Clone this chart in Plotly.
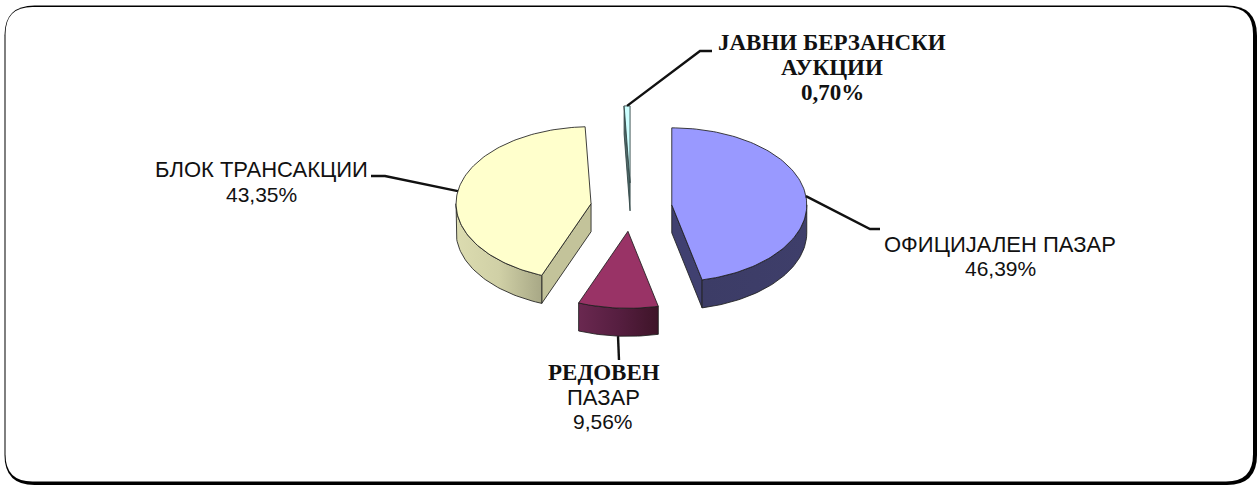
import math
import plotly.graph_objects as go

# ---- data ----
CATEGORIES = ["ОФИЦИЈАЛЕН ПАЗАР", "РЕДОВЕН ПАЗАР", "БЛОК ТРАНСАКЦИИ", "ЈАВНИ БЕРЗАНСКИ АУКЦИИ"]
VALUES = [46.39, 9.56, 43.35, 0.70]
VALUE_LABELS = ["46,39%", "9,56%", "43,35%", "0,70%"]

# ---- drawing geometry and style ----
W, H = 1257, 485
CX, CY = 631, 207.5
RX, RY = 135, 77
DEPTH = 28
EXPLODE = [0.304, 0.31, 0.30, 0.32]
TOP = ["#9999FF", "#993366", "#FFFFCC", "#CCFFFF"]
SERIF = "Liberation Serif"
SANS = "Liberation Sans"
EDGE = "rgba(30,30,30,0.85)"

fig = go.Figure()


def centre(i, mid):
    a = math.radians(mid)
    return CX + EXPLODE[i] * RX * math.sin(a), CY - EXPLODE[i] * RY * math.cos(a)


def pt(c, deg, dz=0):
    a = math.radians(deg)
    return c[0] + RX * math.sin(a), c[1] - RY * math.cos(a) + dz


def arc(c, a0, a1, dz=0):
    n = max(2, int(abs(a1 - a0) / 1.5) + 2)
    return [pt(c, a0 + (a1 - a0) * k / (n - 1), dz) for k in range(n)]


def poly(points, fill=None, grad=None, line=EDGE, width=1):
    xs = [p[0] for p in points] + [points[0][0]]
    ys = [p[1] for p in points] + [points[0][1]]
    kw = {}
    if grad:
        kw["fillgradient"] = dict(type="horizontal", colorscale=grad)
    else:
        kw["fillcolor"] = fill
    fig.add_trace(go.Scatter(x=xs, y=ys, mode="lines", fill="toself",
                             line=dict(color=line, width=width), hoverinfo="skip",
                             showlegend=False, **kw))


def side(c, deg, **kw):
    p = pt(c, deg)
    poly([c, p, (p[0], p[1] + DEPTH), (c[0], c[1] + DEPTH)], **kw)


total = sum(VALUES)
starts, ends, cum = [], [], 0.0
for v in VALUES:
    starts.append(cum / total * 360)
    cum += v
    ends.append(cum / total * 360)
mids = [(a + b) / 2 for a, b in zip(starts, ends)]
centres = [centre(i, mids[i]) for i in range(4)]

# auction sliver
c = centres[3]
side(c, starts[3], fill="#4F6A6A", line="rgba(50,70,70,0.9)", width=1)
poly([c] + arc(c, starts[3], ends[3]), fill=TOP[3], line="rgba(50,70,70,0.9)", width=1)

# block trades
c = centres[2]
side(c, starts[2], fill="#C3C39A")
wall = arc(c, starts[2], 270)
poly(wall + [(x, y + DEPTH) for x, y in reversed(wall)],
     grad=[[0, "#DCDCB0"], [0.5, "#D0D0A6"], [1, "#A8A886"]])
poly([c] + arc(c, starts[2], ends[2]), fill=TOP[2])

# official market
c = centres[0]
side(c, ends[0], fill="#404070")
wall = arc(c, 90, ends[0])
poly(wall + [(x, y + DEPTH) for x, y in reversed(wall)],
     grad=[[0, "#3C3C66"], [1, "#3E3E6A"]])
poly([c] + arc(c, starts[0], ends[0]), fill=TOP[0])

# regular market
c = centres[1]
wall = arc(c, starts[1], ends[1])
poly(wall + [(x, y + DEPTH) for x, y in reversed(wall)],
     grad=[[0, "#6A2850"], [0.5, "#561E40"], [1, "#3E1428"]])
poly([c] + arc(c, starts[1], ends[1]), fill=TOP[1])

# leader lines start on the slices and run to the labels
leaders = [
    (pt(centres[0], mids[0]), [(870, 229), (880, 229)]),
    (pt(centres[1], mids[1], DEPTH), [(619, 360)]),
    (pt(centres[2], mids[2]), [(385, 176), (371, 176)]),
    (pt(centres[3], mids[3]), [(700, 51), (712, 51)]),
]
for start, rest in leaders:
    pts = [start] + rest
    fig.add_trace(go.Scatter(x=[p[0] for p in pts], y=[p[1] for p in pts], mode="lines",
                             line=dict(color="#111111", width=2.4), hoverinfo="skip",
                             showlegend=False))


def label(x, y, text, family, bold=False, size=22):
    fig.add_annotation(x=x, y=y, xref="x", yref="y", showarrow=False, xanchor="center",
                       yanchor="middle", text=f"<b>{text}</b>" if bold else text,
                       font=dict(family=family, size=size, color="#111111"))


label(1000, 244, CATEGORIES[0], SANS)
label(1000, 268, VALUE_LABELS[0], SANS, size=21)
label(604, 372, "РЕДОВЕН", SERIF, True, 23)
label(603, 397, "ПАЗАР", SANS)
label(603, 421, VALUE_LABELS[1], SANS, size=21)
label(261, 169, CATEGORIES[2], SANS)
label(261, 194, VALUE_LABELS[2], SANS, size=21)
label(832, 42, "ЈАВНИ БЕРЗАНСКИ", SERIF, True, 23)
label(832, 67, "АУКЦИИ", SERIF, True, 23)
label(832, 92, VALUE_LABELS[3], SERIF, True, 23)


def rounded(x0, y0, x1, y1, r):
    return (f"M{x0+r},{y0} L{x1-r},{y0} Q{x1},{y0} {x1},{y0+r} L{x1},{y1-r} Q{x1},{y1} {x1-r},{y1} "
            f"L{x0+r},{y1} Q{x0},{y1} {x0},{y1-r} L{x0},{y0+r} Q{x0},{y0} {x0+r},{y0} Z")


fig.update_layout(
    width=W, height=H, margin=dict(l=0, r=0, t=0, b=0),
    paper_bgcolor="white", plot_bgcolor="white", showlegend=False,
    xaxis=dict(range=[0, W], visible=False, fixedrange=True),
    yaxis=dict(range=[H, 0], visible=False, fixedrange=True),
    shapes=[
        dict(type="path", path=rounded(4.5, 5.5, 1257, 485, 30), xref="x", yref="y",
             fillcolor="#000000", line=dict(width=0), layer="below"),
        dict(type="path", path=rounded(5.5, 7, 1253, 481.5, 27), xref="x", yref="y",
             fillcolor="#FFFFFF", line=dict(width=0), layer="below"),
    ],
)
fig.write_html("out.html", post_script="document.body.style.margin='0';", config={"displayModeBar": False})
